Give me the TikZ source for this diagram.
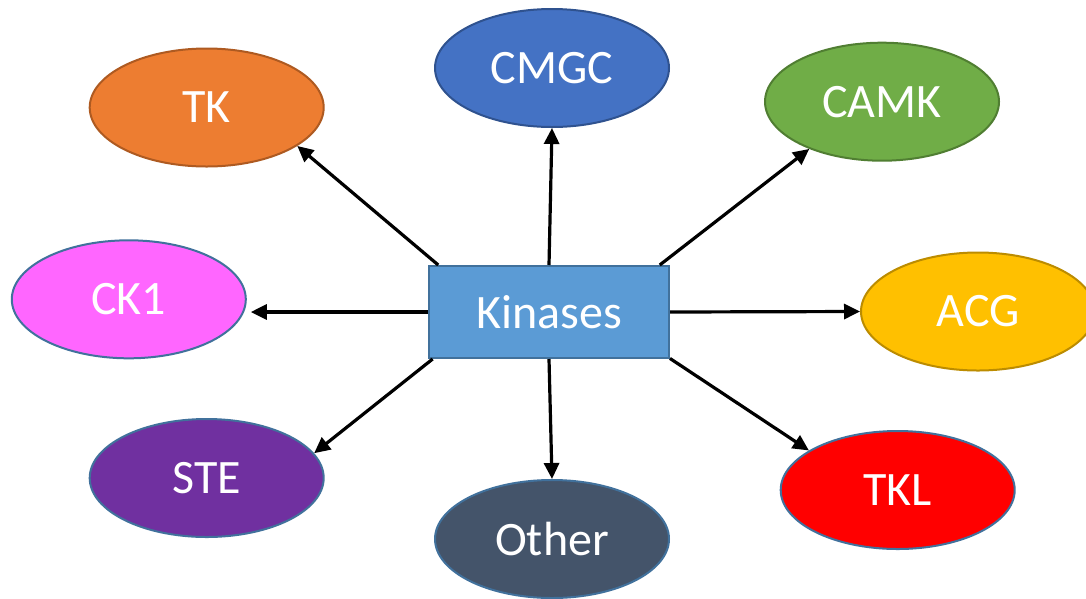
\documentclass[tikz,border=0pt]{standalone}
\usepackage{fontspec}
\setmainfont{Carlito}
\usetikzlibrary{shapes.geometric,arrows.meta}
\definecolor{cTK}{HTML}{ED7D31}\definecolor{bTK}{HTML}{AE5A21}
\definecolor{cCMGC}{HTML}{4472C4}\definecolor{bCMGC}{HTML}{2F528F}
\definecolor{cCAMK}{HTML}{70AD47}\definecolor{bCAMK}{HTML}{507E32}
\definecolor{cCK}{HTML}{FF66FF}
\definecolor{cACG}{HTML}{FFC000}\definecolor{bACG}{HTML}{BC8C00}
\definecolor{cSTE}{HTML}{7030A0}
\definecolor{cOther}{HTML}{44546A}
\definecolor{cTKL}{HTML}{FF0000}
\definecolor{cKin}{HTML}{5B9BD5}\definecolor{bBlue}{HTML}{41719C}
\tikzset{
  fam/.style={ellipse, minimum width=234pt, minimum height=118pt, inner sep=0pt,
    line width=2pt, text=white, font=\fontsize{48}{58}\selectfont},
  kinbox/.style={rectangle, minimum width=240pt, minimum height=92pt, inner sep=0pt,
    fill=cKin, draw=bBlue, line width=2pt, text=white, font=\fontsize{48}{58}\selectfont},
  arr/.style={line width=3.2pt, -{Triangle[length=16pt,width=15pt]}}
}
\begin{document}
\begin{tikzpicture}[x=1pt,y=-1pt]
\useasboundingbox (0,0) rectangle (1086,598);
\clip (0,0) rectangle (1086,598);
\fill[white] (0,0) rectangle (1086,598);
\node[kinbox] (kin) at (549,312) {Kinases};
\node[fam, fill=cTK, draw=bTK] (tk) at (206.7,107.5) {TK};
\node[fam, fill=cCMGC, draw=bCMGC] (cmgc) at (552,68) {CMGC};
\node[fam, fill=cCAMK, draw=bCAMK] (camk) at (882,101.7) {CAMK};
\node[fam, fill=cCK, draw=bBlue] (ck1) at (128.8,299.3) {CK1};
\node[fam, fill=cACG, draw=bACG] (acg) at (978,311.5) {ACG};
\node[fam, fill=cSTE, draw=bBlue] (ste) at (206.7,478) {STE};
\node[fam, fill=cOther, draw=bBlue] (other) at (552,539) {Other};
\node[fam, fill=cTKL, draw=bBlue] (tkl) at (897.7,490) {TKL};
\draw[arr] (kin.157) -- (tk.-23.9);
\draw[arr] (kin.north) -- (cmgc.south);
\draw[arr] (kin.23.5) -- (camk.-147.7);
\draw[arr, shorten >=4pt] (kin.west) -- (kin.west -| ck1.east);
\draw[arr] (kin.east) -- (acg.west);
\draw[arr] (kin.202) -- (ste.13);
\draw[arr] (kin.south) -- (other.north);
\draw[arr] (kin.-21.1) -- (tkl.156.7);
\end{tikzpicture}
\end{document}
